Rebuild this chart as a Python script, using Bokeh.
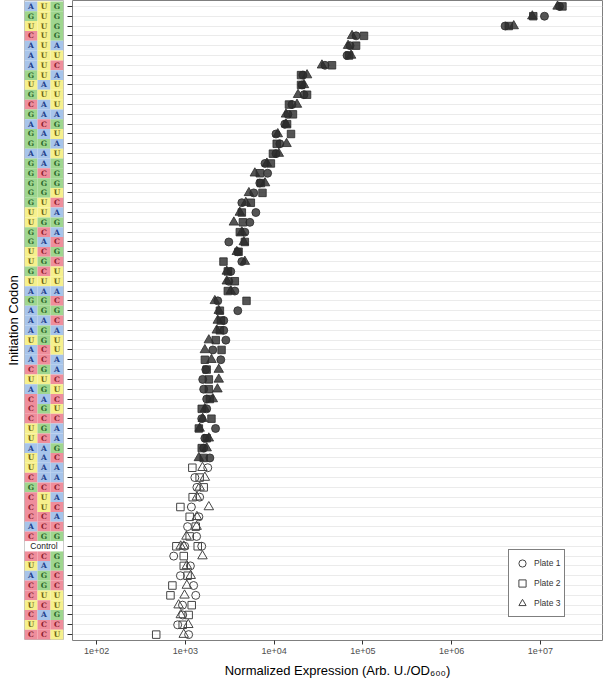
from bokeh.plotting import figure
from bokeh.models import ColumnDataSource, FactorRange, Range1d, FixedTicker, Title, Legend, LegendItem
from bokeh.layouts import row
from bokeh.embed import file_html
from bokeh.resources import INLINE
from bokeh.core.properties import value

codons = ["AUG","GUG","UUG","CUG","AUA","AUU","AUC","GUA","UAU","GUU",
          "CAU","GAA","ACG","GAU","GGA","AAU","GAG","GCG","GGG","GGU",
          "GUC","UUA","UGG","GCA","GAC","UCG","UGC","GCU","UUU","AAA",
          "GGC","AGG","AAC","AGA","UGU","ACU","ACA","CGA","UUC","AGU",
          "CAC","CGU","CCC","UGA","UCA","AAG","UAC","UAA","CAA","GCC",
          "CUA","CUC","CCA","ACC","CGG","Control","CCG","UAG","AGC","CGC",
          "CUU","UCU","CAG","UCC","CCU"]

plate1 = [1.64e7, 1.11e7, 4.0e6, 83800, 71700, 66300, 37400, 21100, 20600, 21700,
          15900, 14300, 13200, 10500, 11600, 10500, 7900, 8450, 6900, 5900,
          4330, 6230, 5330, 4680, 3090, 3900, 4330, 3250, 3090, 3610,
          2320, 3900, 2710, 2710, 2860, 2040, 2510, 1700, 1570, 1610,
          1740, 1740, 1530, 2190, 1660, 1610, 1890, 1790, 1280, 1350,
          1450, 1170, 1420, 1060, 1340, 984, 740, 1140, 880, 1240,
          1310, 930, 935, 820, 1090]
plate2 = [1.77e7, 8.3e6, 4.4e6, 103000, 83800, 69900, 44900, 20100, 20100, 23500,
          14700, 16300, 14000, 15500, 10700, 9700, 9200, 6900, 7100, 7400,
          5470, 4330, 4450, 4110, 4680, 3980, 2690, 3010, 3610, 3010,
          4890, 2450, 2510, 2450, 2200, 2560, 1660, 1740, 1840, 1840,
          1890, 1530, 1970, 1420, 1740, 1530, 1610, 1200, 1450, 1610,
          1210, 880, 1120, 1310, 1120, 793, 960, 960, 1060, 715,
          680, 1180, 1090, 935, 470]
plate3 = [1.56e7, 8.1e6, 5.0e6, 75500, 68100, 73600, 34600, 23500, 21700, 18600,
          18100, 13600, 13600, 11000, 13800, 11300, 8300, 6070, 7900, 5200,
          4800, 4110, 3520, 4330, 4560, 3800, 4680, 2930, 2930, 3250,
          2150, 2380, 2320, 2260, 1840, 1660, 1970, 2380, 2380, 2300,
          2040, 1660, 1570, 1450, 1840, 1740, 1420, 1560, 1660, 1450,
          1350, 1840, 1350, 1340, 1030, 887, 1560, 1040, 1150, 1040,
          980, 840, 890, 1080, 960]
# second control well on each plate (Plate 1, Plate 2, Plate 3)
control_rep2 = [1530, 1380, 960]

# codons whose expression is not above the control (drawn as open symbols)
not_above_control = ["UAA","CAA","GCC","CUA","CUC","CCA","ACC","CGG","Control",
                     "CCG","UAG","AGC","CGC","CUU","UCU","CAG","UCC","CCU"]

plate_names = ["Plate 1", "Plate 2", "Plate 3"]
x_ticks = [100, 1000, 10000, 100000, 1000000, 10000000]
x_tick_labels = ["1e+02", "1e+03", "1e+04", "1e+05", "1e+06", "1e+07"]

FONT = "Liberation Sans"
nt_fill = {"A": "#a7c4ea", "C": "#ef8e9c", "G": "#9fd68f", "U": "#f6f08d"}
nt_text = {"A": "#233f8c", "C": "#8c1c2e", "G": "#2a662a", "U": "#6b6212"}

yr = FactorRange(factors=list(reversed(codons)), range_padding=0.1,
                 range_padding_units="absolute")

FH = 640
main = figure(width=10, height=10, frame_width=530, frame_height=FH,
              x_axis_type="log", x_range=Range1d(53.6, 5.0e7), y_range=yr,
              output_backend="svg", toolbar_location=None,
              min_border_left=0, min_border_right=1, min_border_top=0, min_border_bottom=0)
main.outline_line_color = "#7f7f7f"
main.outline_line_width = 1
main.xgrid.grid_line_color = None
main.ygrid.grid_line_color = "#ebebeb"
main.ygrid.grid_line_width = 1

xa = main.xaxis[0]
xa.ticker = FixedTicker(ticks=x_ticks)
xa.major_label_overrides = {int(t): l for t, l in zip(x_ticks, x_tick_labels)}
xa.minor_tick_line_color = None
xa.axis_line_color = None
xa.major_tick_out = 4
xa.major_tick_in = 0
xa.major_tick_line_color = "#333333"
xa.major_label_text_font = FONT
xa.major_label_text_font_size = "9px"
xa.major_label_text_color = "#4d4d4d"
xa.major_label_standoff = 3
xa.axis_label = "Normalized Expression (Arb. U./OD\u2086\u2080\u2080)"
xa.axis_label_text_font = FONT
xa.axis_label_text_font_size = "13px"
xa.axis_label_text_font_style = "normal"
xa.axis_label_text_color = "#000000"
xa.axis_label_standoff = 6

ya = main.yaxis[0]
ya.axis_line_color = None
ya.major_tick_out = 5
ya.major_tick_in = 0
ya.major_tick_line_color = "#333333"
ya.major_label_text_color = None
ya.major_label_standoff = 0

markers = ["circle", "square", "triangle"]
sizes = [8, 7.5, 9.5]
plates = [plate1, plate2, plate3]
legend_renderers = []
for k in range(3):
    vals = list(plates[k]) + [control_rep2[k]]
    cods = list(codons) + ["Control"]
    fx = [v for v, c in zip(vals, cods) if c not in not_above_control]
    fy = [c for v, c in zip(vals, cods) if c not in not_above_control]
    ox = [v for v, c in zip(vals, cods) if c in not_above_control]
    oy = [c for v, c in zip(vals, cods) if c in not_above_control]
    main.scatter(x="x", y="y", source=ColumnDataSource(dict(x=fx, y=fy)),
                 marker=markers[k], size=sizes[k], fill_color="#2b2b2b", fill_alpha=0.8,
                 line_color="#2b2b2b", line_alpha=0.8, line_width=1)
    r = main.scatter(x="x", y="y", source=ColumnDataSource(dict(x=ox, y=oy)),
                     marker=markers[k], size=sizes[k], fill_color="white", fill_alpha=0.0,
                     line_color="#444444", line_width=1)
    legend_renderers.append(r)

legend = Legend(items=[LegendItem(label=n, renderers=[r]) for n, r in zip(plate_names, legend_renderers)],
                location=(436, 23))
legend.border_line_color = "black"
legend.border_line_width = 1.5
legend.background_fill_color = "white"
legend.background_fill_alpha = 1
legend.label_text_font = FONT
legend.label_text_font_size = "8.5px"
legend.label_text_color = "#333333"
legend.glyph_width = 18
legend.glyph_height = 18
legend.label_height = 18
legend.spacing = 2
legend.padding = 4
legend.margin = 0
legend.label_standoff = 3
main.add_layout(legend)

# codon tile column
tx, ty, tc, tl, ttc = [], [], [], [], []
for c in codons:
    if c == "Control":
        continue
    for j, nt in enumerate(c):
        tx.append(j + 0.5)
        ty.append(c)
        tc.append(nt_fill[nt])
        tl.append(nt)
        ttc.append(nt_text[nt])
ctrl = [c for c in codons if c == "Control"]

left = figure(width=10, height=10, frame_width=39, frame_height=FH,
              x_range=Range1d(0, 3), y_range=yr,
              x_axis_location=None, y_axis_location=None,
              output_backend="svg", toolbar_location=None,
              min_border_left=0, min_border_right=4, min_border_top=0, min_border_bottom=0)
left.grid.visible = False
left.outline_line_color = "#bdbdbd"
tiles = ColumnDataSource(dict(x=tx, y=ty, fill=tc, letter=tl, tcol=ttc))
left.rect(x="x", y="y", width=1, height=1, source=tiles, fill_color="fill", line_color=None)
left.text(x="x", y="y", text="letter", source=tiles, text_color="tcol",
          text_font=value("DejaVu Serif"), text_font_style="bold", text_font_size="7.5px",
          text_align="center", text_baseline="middle")
csrc = ColumnDataSource(dict(x=[1.5] * len(ctrl), y=ctrl, t=ctrl))
left.rect(x="x", y="y", width=3, height=1, source=csrc, fill_color="white", line_color=None)
left.text(x="x", y="y", text="t", source=csrc, text_color="#222222",
          text_font=value(FONT), text_font_size="8.5px",
          text_align="center", text_baseline="middle")
left.add_layout(Title(text="Initiation Codon", align="center", text_font=FONT,
                      text_font_size="13px", text_font_style="normal",
                      text_color="#000000", standoff=7), "left")

layout = row(left, main)
open("out.html", "w").write(file_html(layout, INLINE))
